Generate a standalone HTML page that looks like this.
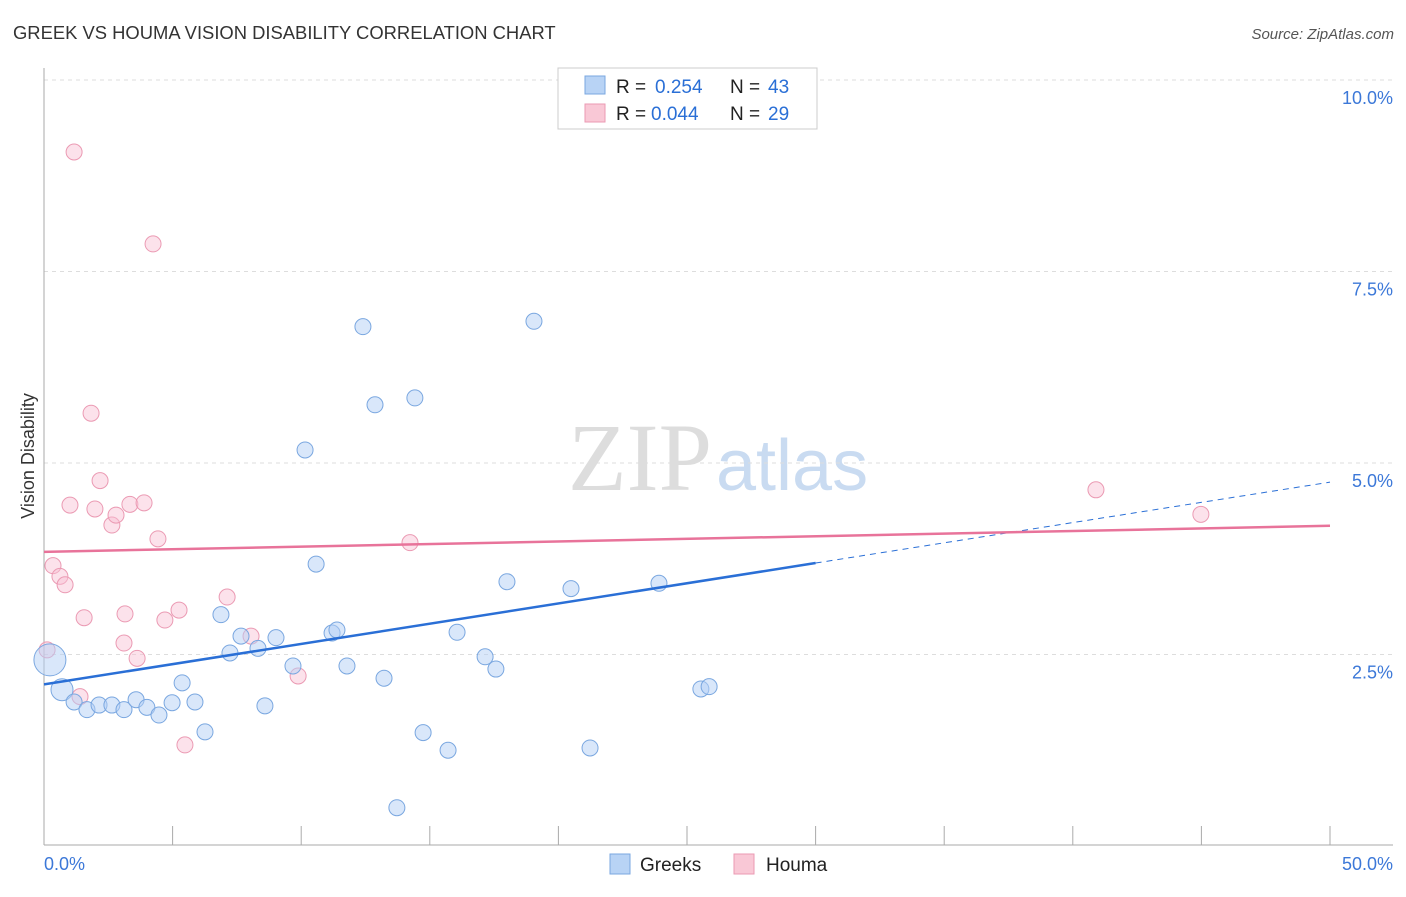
<!DOCTYPE html>
<html><head><meta charset="utf-8"><style>
body{margin:0;background:#fff;font-family:"Liberation Sans",sans-serif}
</style></head><body>
<svg width="1406" height="892" xmlns="http://www.w3.org/2000/svg" font-family="Liberation Sans, sans-serif">
<text x="13" y="39" font-size="18.4" fill="#333">GREEK VS HOUMA VISION DISABILITY CORRELATION CHART</text>
<text x="1394" y="39" font-size="15" fill="#555" font-style="italic" text-anchor="end">Source: ZipAtlas.com</text>
<text x="712" y="490" font-size="96" fill="#ddd" font-family="Liberation Serif, serif" text-anchor="end">ZIP</text>
<text x="716" y="490" font-size="72" fill="#c9dbf1">atlas</text>
<g id="grid"></g>
<line x1="44" y1="845" x2="1393" y2="845" stroke="#aaa"/>
<line x1="44" y1="68" x2="44" y2="845" stroke="#aaa"/>
<text transform="translate(34,456) rotate(-90)" font-size="18" fill="#333" text-anchor="middle">Vision Disability</text>
<text x="44" y="870" font-size="18" fill="#3c78d8">0.0%</text>
<text x="1393" y="870" font-size="18" fill="#3c78d8" text-anchor="end">50.0%</text>
<g id="marks"></g>
<rect x="558" y="68" width="259" height="61" fill="#fff" stroke="#ccc"/>
<rect x="585" y="76" width="20" height="18" fill="#b8d3f5" stroke="#7aa7e0"/>
<rect x="585" y="104" width="20" height="18" fill="#f9c8d6" stroke="#eb9ab3"/>
<g font-size="19">
<text x="616" y="93" fill="#222">R =</text><text x="655" y="93" fill="#2a6fd6">0.254</text><text x="730" y="93" fill="#222">N =</text><text x="768" y="93" fill="#2a6fd6">43</text>
</g>
<g font-size="19">
<text x="616" y="120" fill="#222">R =</text><text x="651" y="120" fill="#2a6fd6">0.044</text><text x="730" y="120" fill="#222">N =</text><text x="768" y="120" fill="#2a6fd6">29</text>
</g>
<rect x="610" y="854" width="20" height="20" fill="#b8d3f5" stroke="#7aa7e0"/>
<text x="640" y="871" font-size="19" fill="#222">Greeks</text>
<rect x="734" y="854" width="20" height="20" fill="#f9c8d6" stroke="#eb9ab3"/>
<text x="766" y="871" font-size="19" fill="#222">Houma</text>
</svg>
<script>
const yTicks=[2.5,5.0,7.5,10.0];
const yTickLabels=["2.5%","5.0%","7.5%","10.0%"];
const xTicks=[0,5,10,15,20,25,30,35,40,45,50];
const greeksX=[0.23,0.70,1.17,1.67,2.14,2.64,3.11,3.58,4.00,4.47,4.98,5.37,5.87,6.26,6.88,7.23,7.66,8.32,8.59,9.02,9.68,10.15,10.58,11.20,11.39,11.78,12.40,12.87,13.22,13.72,14.42,14.74,15.71,16.06,17.15,17.57,18.00,19.05,20.49,21.23,23.91,25.54,25.86];
const greeksY=[2.43,2.04,1.88,1.78,1.84,1.84,1.78,1.91,1.81,1.71,1.87,2.13,1.88,1.49,3.02,2.52,2.74,2.58,1.83,2.72,2.35,5.17,3.68,2.78,2.82,2.35,6.78,5.76,2.19,0.50,5.85,1.48,1.25,2.79,2.47,2.31,3.45,6.85,3.36,1.28,3.43,2.05,2.08];
const houmaX=[0.12,0.35,0.62,0.82,1.01,1.17,1.40,1.56,1.83,1.98,2.18,2.64,2.80,3.11,3.15,3.34,3.62,3.89,4.24,4.43,4.70,5.25,5.48,7.12,8.05,9.88,14.23,40.90,44.98];
const houmaY=[2.56,3.66,3.52,3.41,4.45,9.06,1.95,2.98,5.65,4.40,4.77,4.19,4.32,2.65,3.03,4.46,2.45,4.48,7.86,4.01,2.95,3.08,1.32,3.25,2.74,2.22,3.96,4.65,4.33];
const greeksTrend=[2.11,4.75];
const greeksSolidEnd=30;
const houmaTrend=[3.84,4.18];
const NS="http://www.w3.org/2000/svg";
const sx=v=>44+v*25.72, sy=v=>846-v*76.6;
function mk(tag,attrs,parent){const e=document.createElementNS(NS,tag);for(const k in attrs)e.setAttribute(k,attrs[k]);parent.appendChild(e);return e;}
const grid=document.getElementById('grid'), marks=document.getElementById('marks');
yTicks.forEach((t,i)=>{
  const l=mk('line',{x1:44,x2:1393,y1:sy(t),y2:sy(t),stroke:'#ddd','stroke-dasharray':'4,4'},grid);
  
  
  const tx=mk('text',{x:1393,y:sy(t)+24,'font-size':18,fill:'#3c78d8','text-anchor':'end'},grid);
  tx.textContent=yTickLabels[i];
  
  
});
xTicks.forEach(t=>{
  const l=mk('line',{x1:sx(t),x2:sx(t),y1:826,y2:845,stroke:'#aaa'},grid);
  
  
});
houmaX.forEach((x,i)=>{
  const c=mk('circle',{cx:sx(x),cy:sy(houmaY[i]),r:8,fill:'rgba(249,190,210,0.45)',stroke:'#eb9ab3','stroke-width':1},marks);
  
  
});
greeksX.forEach((x,i)=>{
  const r=i==0?16:(i==1?11:8);
  const c=mk('circle',{cx:sx(x),cy:sy(greeksY[i]),r:r,fill:'rgba(180,208,245,0.5)',stroke:'#7aa7e0','stroke-width':1},marks);
  
  
});
const gy=x=>greeksTrend[0]+(greeksTrend[1]-greeksTrend[0])*x/50;
const t1=mk('line',{x1:sx(0),y1:sy(gy(0)),x2:sx(greeksSolidEnd),y2:sy(gy(greeksSolidEnd)),stroke:'#2a6fd6','stroke-width':2.5},marks);


const t2=mk('line',{x1:sx(greeksSolidEnd),y1:sy(gy(greeksSolidEnd)),x2:sx(50),y2:sy(gy(50)),stroke:'#2a6fd6','stroke-width':1,'stroke-dasharray':'6,5'},marks);


const t3=mk('line',{x1:sx(0),y1:sy(houmaTrend[0]),x2:sx(50),y2:sy(houmaTrend[1]),stroke:'#e8739a','stroke-width':2.5},marks);


</script>
</body></html>
